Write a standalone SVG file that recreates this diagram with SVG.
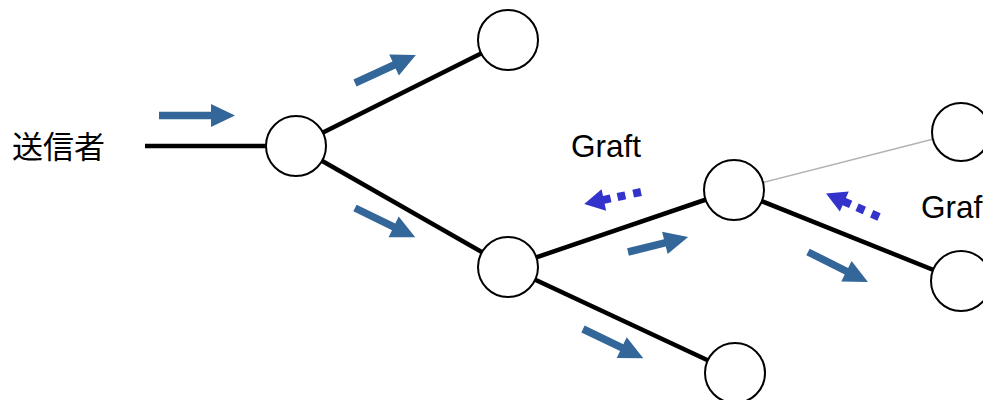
<svg xmlns="http://www.w3.org/2000/svg" width="983" height="400" viewBox="0 0 983 400">
<style>
.edge{stroke:#000;stroke-width:4.5;fill:none}
.thin{stroke:#b3b3b3;stroke-width:1.5;fill:none}
.node{fill:#fff;stroke:#000;stroke-width:2}
.flow{fill:#336699}
.graft{fill:#3333cc}
.lbl{font-family:"Liberation Sans","Noto Sans CJK JP",sans-serif;fill:#000}
</style>
<defs>
<path id="a67" d="M0,-3.75 H43 V-11.5 L67,0 L43,11.5 V3.75 H0 Z"/>
<path id="a62" d="M0,-3.75 H38 V-11.5 L62,0 L38,11.5 V3.75 H0 Z"/>
<path id="a76" d="M0,-3.75 H52 V-11.5 L76,0 L52,11.5 V3.75 H0 Z"/>
<path id="d58" d="M0,-4 H8 V4 H0 Z M16,-4 H24 V4 H16 Z M31,-4 H38 V-11 L58,0 L38,11 V4 H31 Z"/>
</defs>
<g id="connectors">
<line class="edge" x1="145" y1="146" x2="296" y2="146"/>
<line class="edge" x1="296" y1="146" x2="508" y2="40"/>
<line class="edge" x1="296" y1="146" x2="508" y2="267"/>
<line class="edge" x1="508" y1="267" x2="734" y2="190"/>
<line class="edge" x1="508" y1="267" x2="735" y2="373"/>
<line class="thin" x1="734" y1="190" x2="961" y2="132"/>
<line class="edge" x1="734" y1="190" x2="961" y2="281"/>
</g>
<g id="n1"><circle class="node" cx="296" cy="146" r="30"/></g>
<g id="n2"><circle class="node" cx="508" cy="40" r="30"/></g>
<g id="n3"><circle class="node" cx="508" cy="267" r="30"/></g>
<g id="n4"><circle class="node" cx="734" cy="190" r="30"/></g>
<g id="n5"><circle class="node" cx="735" cy="373" r="30"/></g>
<g id="n6"><circle class="node" cx="961" cy="132" r="29"/></g>
<g id="n7"><circle class="node" cx="961" cy="281" r="30"/></g>
<g id="arrows">
<use href="#a76" class="flow" transform="translate(159,115.5)"/>
<use href="#a67" class="flow" transform="translate(355,83) rotate(-24.7)"/>
<use href="#a67" class="flow" transform="translate(355,208) rotate(26)"/>
<use href="#a62" class="flow" transform="translate(628,252) rotate(-14)"/>
<use href="#a67" class="flow" transform="translate(583,329) rotate(25.8)"/>
<use href="#a67" class="flow" transform="translate(808,252) rotate(26.6)"/>
<use href="#d58" class="graft" transform="translate(641,192) rotate(168)"/>
<use href="#d58" class="graft" transform="translate(879,217) rotate(204)"/>
</g>
<g id="labels">
<text class="lbl" x="12" y="158" font-size="31">送信者</text>
<text class="lbl" x="571" y="157" font-size="31.5">Graft</text>
<text class="lbl" x="921" y="218" font-size="31.5">Graft</text>
</g>
</svg>
